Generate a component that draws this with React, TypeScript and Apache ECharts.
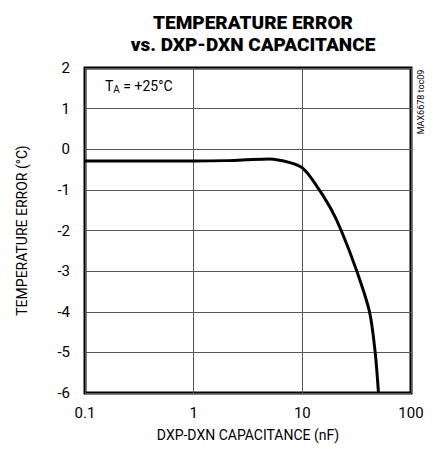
import React, { useEffect, useRef } from "react";
import * as echarts from "echarts";

const capacitance = [0.1, 0.5, 1, 2, 3, 5, 7.7, 10, 12.6, 18, 22.8, 31.7, 41.5, 46.8, 50.2];
const tempError = [-0.29, -0.29, -0.29, -0.28, -0.26, -0.24, -0.33, -0.46, -0.78, -1.43, -2, -3, -4, -5, -6];
const xTicks = [0.1, 1, 10, 100];
const yTicks = [2, 1, 0, -1, -2, -3, -4, -5, -6];

const FONT = "Roboto, 'Liberation Sans', Arial, sans-serif";

export default function App() {
  const ref = useRef<HTMLDivElement>(null);
  useEffect(() => {
    const chart = echarts.init(ref.current!, null, { renderer: "svg" });
    const data = capacitance.map((c, i) => [c, tempError[i]]);
    chart.setOption({
      animation: false,
      backgroundColor: "#fff",
      title: {
        text: "TEMPERATURE ERROR\nvs. DXP-DXN CAPACITANCE",
        left: 248,
        textAlign: "center",
        top: 6,
        textStyle: {
          fontFamily: FONT,
          fontWeight: 900,
          fontSize: 19,
          lineHeight: 22,
          color: "#000",
        },
      },
      grid: {
        left: 85,
        right: 27,
        top: 68,
        bottom: 62,
        show: true,
        borderColor: "#000",
        borderWidth: 3,
        backgroundColor: "transparent",
      },
      xAxis: {
        type: "log",
        logBase: 10,
        min: 0.1,
        max: 100,
        name: "DXP-DXN CAPACITANCE (nF)",
        nameLocation: "middle",
        nameGap: 35,
        nameTextStyle: { fontFamily: FONT, fontSize: 14, color: "#000" },
        axisLine: { show: false },
        axisTick: { show: false },
        axisLabel: {
          fontFamily: FONT,
          fontSize: 15,
          color: "#000",
          margin: 12,
          formatter: (v: number) => (xTicks.includes(+v.toPrecision(3)) ? String(+v.toPrecision(3)) : ""),
        },
        splitLine: { show: true, lineStyle: { color: "#555", width: 1 } },
        minorSplitLine: { show: false },
      },
      yAxis: {
        type: "value",
        min: -6,
        max: 2,
        interval: 1,
        name: "TEMPERATURE ERROR (°C)",
        nameLocation: "middle",
        nameGap: 56,
        nameTextStyle: { fontFamily: FONT, fontSize: 14, color: "#000" },
        axisLine: { show: false },
        axisTick: { show: false },
        axisLabel: {
          fontFamily: FONT,
          fontSize: 15,
          color: "#000",
          margin: 15,
          formatter: (v: number) => (yTicks.includes(v) ? String(v) : ""),
        },
        splitLine: { show: true, lineStyle: { color: "#555", width: 1 } },
      },
      series: [
        {
          type: "line",
          data,
          smooth: 0.3,
          symbol: "none",
          lineStyle: { color: "#000", width: 3 },
          clip: true,
        },
      ],
      graphic: [
        {
          type: "text",
          left: 105,
          top: 79,
          style: {
            text: "{t|T}{s|A}{t| = +25°C}",
            rich: {
              t: { fontFamily: FONT, fontSize: 14, fill: "#000" },
              s: { fontFamily: FONT, fontSize: 10, fill: "#000", padding: [7, 0, 0, 0] },
            },
          },
        },
        {
          type: "text",
          x: 421,
          y: 102,
          rotation: Math.PI / 2,
          style: {
            text: "MAX6678 toc09",
            fontFamily: FONT,
            fontSize: 9,
            fill: "#000",
            align: "center",
            verticalAlign: "middle",
          },
        },
      ],
    });
    return () => chart.dispose();
  }, []);
  return <div ref={ref} style={{ width: 438, height: 455, margin: -8 }} />;
}
